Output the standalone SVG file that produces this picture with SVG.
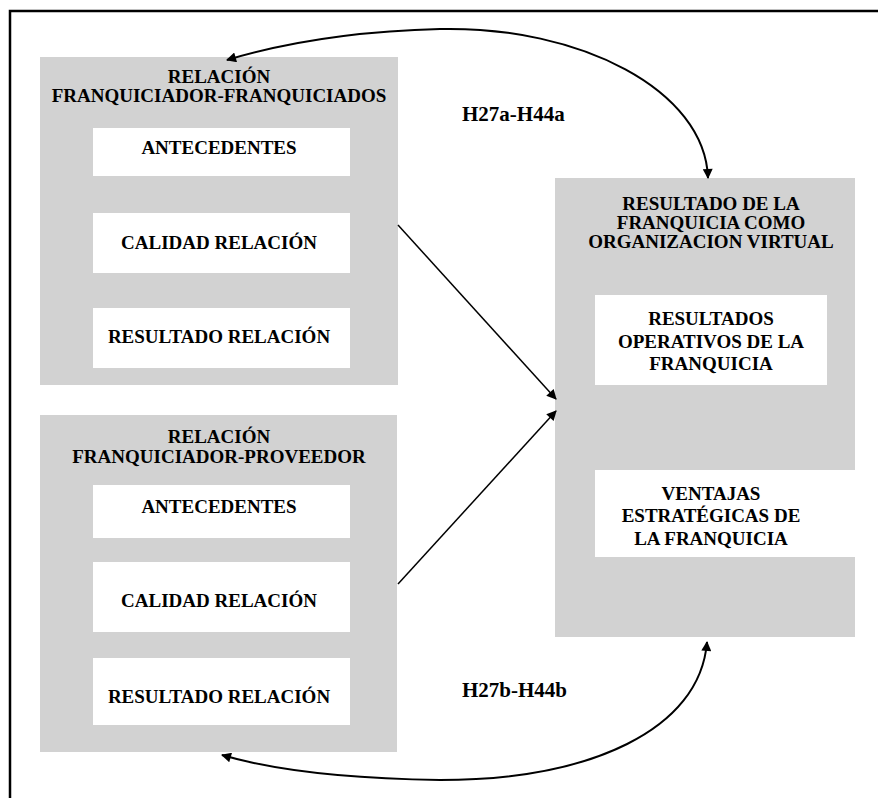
<svg xmlns="http://www.w3.org/2000/svg" width="878" height="798" viewBox="0 0 878 798">
<style>
  .grp { fill: #d2d2d2; }
  .wht { fill: #ffffff; }
  .t { font-family: "Liberation Serif", "Times New Roman", serif; font-weight: bold; font-size: 19px; fill: #000; text-anchor: middle; }
  .lbl { font-family: "Liberation Serif", "Times New Roman", serif; font-weight: bold; font-size: 21px; fill: #000; }
  .conn { fill: none; stroke: #000; }
</style>
<defs>
  <marker id="ah" viewBox="0 0 10 10" refX="9" refY="5" markerWidth="13" markerHeight="10" markerUnits="userSpaceOnUse" orient="auto-start-reverse">
    <path d="M0,0 L10,5 L0,10 z" fill="#000"/>
  </marker>
</defs>
<rect width="878" height="798" fill="#fff"/>
<path d="M10,798 V11 H878" fill="none" stroke="#000" stroke-width="2.5"/>

<g id="node-franquiciados">
  <rect class="grp" x="40" y="57" width="358" height="328"/>
  <rect class="wht" x="93" y="128" width="257" height="48"/>
  <rect class="wht" x="93" y="213" width="257" height="60"/>
  <rect class="wht" x="93" y="308" width="257" height="60"/>
  <text class="t" x="219" y="83">RELACIÓN</text>
  <text class="t" x="219" y="102">FRANQUICIADOR-FRANQUICIADOS</text>
  <text class="t" x="219" y="154">ANTECEDENTES</text>
  <text class="t" x="219" y="249">CALIDAD RELACIÓN</text>
  <text class="t" x="219" y="343">RESULTADO RELACIÓN</text>
</g>

<g id="node-proveedor">
  <rect class="grp" x="40" y="415" width="357" height="337"/>
  <rect class="wht" x="93" y="485" width="257" height="53"/>
  <rect class="wht" x="93" y="562" width="257" height="70"/>
  <rect class="wht" x="93" y="658" width="257" height="67"/>
  <text class="t" x="219" y="443">RELACIÓN</text>
  <text class="t" x="219" y="463">FRANQUICIADOR-PROVEEDOR</text>
  <text class="t" x="219" y="513">ANTECEDENTES</text>
  <text class="t" x="219" y="607">CALIDAD RELACIÓN</text>
  <text class="t" x="219" y="703">RESULTADO RELACIÓN</text>
</g>

<g id="node-resultado">
  <rect class="grp" x="555" y="178" width="300" height="459"/>
  <rect class="wht" x="595" y="295" width="232" height="90"/>
  <rect class="wht" x="595" y="470" width="260" height="87"/>
  <text class="t" x="711" y="210">RESULTADO DE LA</text>
  <text class="t" x="711" y="229">FRANQUICIA COMO</text>
  <text class="t" x="711" y="248">ORGANIZACION VIRTUAL</text>
  <text class="t" x="711" y="325">RESULTADOS</text>
  <text class="t" x="711" y="348">OPERATIVOS DE LA</text>
  <text class="t" x="711" y="370">FRANQUICIA</text>
  <text class="t" x="711" y="500">VENTAJAS</text>
  <text class="t" x="711" y="522">ESTRATÉGICAS DE</text>
  <text class="t" x="711" y="545">LA FRANQUICIA</text>
</g>

<g id="connectors">
  <path class="conn" stroke-width="2" d="M227,60 Q320,32 440,29 C580,26 705,90 708,178" marker-start="url(#ah)" marker-end="url(#ah)"/>
  <path class="conn" stroke-width="2" d="M222,755 Q300,778 440,780 C590,780 700,730 707,642" marker-start="url(#ah)" marker-end="url(#ah)"/>
  <path class="conn" stroke-width="1.5" d="M398,225 L556,399" marker-end="url(#ah)"/>
  <path class="conn" stroke-width="1.5" d="M398,584 L556,411" marker-end="url(#ah)"/>
  <text class="lbl" x="462" y="121">H27a-H44a</text>
  <text class="lbl" x="462" y="697">H27b-H44b</text>
</g>
</svg>
